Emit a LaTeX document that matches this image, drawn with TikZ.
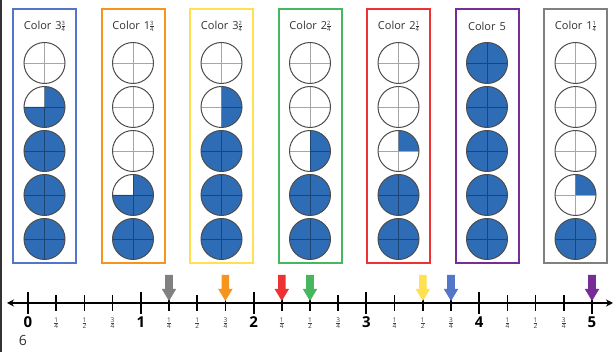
\documentclass[tikz,border=0pt]{standalone}
\usepackage{fontspec}
\setmainfont{Open Sans}
\usetikzlibrary{arrows.meta}
\definecolor{fillblue}{RGB}{46,109,181}
\definecolor{cblue}{RGB}{84,118,200}
\definecolor{corange}{RGB}{247,148,29}
\definecolor{cyellow}{RGB}{255,224,80}
\definecolor{cgreen}{RGB}{70,182,95}
\definecolor{cred}{RGB}{236,50,50}
\definecolor{cpurple}{RGB}{120,45,150}
\definecolor{cgrey}{RGB}{128,128,128}
\definecolor{txt}{RGB}{50,50,50}
\newcommand\myfr[3]{$\vcenter{\hbox{\fontsize{#1}{#1}\selectfont #2}\kern0.5pt\hrule height 0.45pt\kern0.6pt\hbox{\fontsize{#1}{#1}\selectfont #3}}$}
\tikzset{
  boxframe/.style={line width=2pt},
  boxlabel/.style={text=txt, font=\fontsize{11}{12}\selectfont, inner sep=0pt},
  discline/.style={black, opacity=0.35, line width=0.6pt},
  discedge/.style={draw=black!70, line width=1pt},
  tickmajor/.style={line width=2pt, black},
  tickminor/.style={line width=1.6pt, black},
  intlabel/.style={font=\fontsize{15}{16}\selectfont\bfseries, inner sep=0pt},
  fraclabel/.style={text=black!75, inner sep=0pt},
}
\begin{document}
\begin{tikzpicture}[x=1pt,y=1pt]
\useasboundingbox (0,0) rectangle (616,352);
\fill[white] (0,0) rectangle (616,352);
\draw[black!80, line width=1.6pt] (1,0) -- (1,352);
% boxes
\foreach \i/\col/\lab/\qs in {
  0/cblue/{3\myfr{5.8}{3}{4}}/{0,3,4,4,4},
  1/corange/{1\myfr{5.8}{3}{4}}/{0,0,0,3,4},
  2/cyellow/{3\myfr{5.8}{2}{4}}/{0,2,4,4,4},
  3/cgreen/{2\myfr{5.8}{2}{4}}/{0,0,2,4,4},
  4/cred/{2\myfr{5.8}{1}{4}}/{0,0,1,4,4},
  5/cpurple/{5}/{4,4,4,4,4},
  6/cgrey/{1\myfr{5.8}{1}{4}}/{0,0,0,1,4}}{
  \pgfmathsetmacro\bx{13+88.5*\i}
  \pgfmathsetmacro\cx{\bx+31.5}
  \draw[boxframe, draw=\col] (\bx,89) rectangle ++(63,254);
  \node[boxlabel] (lab\i) at (\cx,326) {Color\hspace{4pt}\lab};
  \foreach \q [count=\j from 0] in \qs {
    \pgfmathsetmacro\cy{289-44*\j}
    \ifnum\q>0
      \fill[fillblue] (\cx,\cy) -- ++(90:20.5) arc[start angle=90, delta angle={-90*\q}, radius=20.5] -- cycle;
    \fi
    \draw[discline] (\cx-20.5,\cy) -- (\cx+20.5,\cy) (\cx,\cy-20.5) -- (\cx,\cy+20.5);
    \node[circle, discedge, minimum size=41pt, inner sep=0pt] (d\i\j) at (\cx,\cy) {};
  }
}
% number line
\coordinate (nlL) at (7,49);
\coordinate (nlR) at (613,49);
\draw[line width=1.6pt, {Stealth[length=7pt,width=7pt]}-{Stealth[length=7pt,width=7pt]}] (nlL) -- (nlR);
\foreach \k in {0,...,20}{
  \pgfmathsetmacro\tx{28+28.2*\k}
  \pgfmathtruncatemacro\r{mod(\k,4)}
  \pgfmathtruncatemacro\n{div(\k,4)}
  \ifnum\r=0
    \draw[tickmajor] (\tx,38) -- (\tx,60);
    \node[intlabel] (t\k) at (\tx,30) {\n};
  \else
    \draw[tickminor] (\tx,41) -- (\tx,57);
    \ifnum\r=1 \node[fraclabel] (t\k) at (\tx,29) {\myfr{6.5}{1}{4}};\fi
    \ifnum\r=2 \node[fraclabel] (t\k) at (\tx,29) {\myfr{6.5}{1}{2}};\fi
    \ifnum\r=3 \node[fraclabel] (t\k) at (\tx,29) {\myfr{6.5}{3}{4}};\fi
  \fi
}
\node[font=\fontsize{14}{15}\selectfont, text=txt, inner sep=0pt] (six) at (23,11) {6};
% arrows
\foreach \k/\col in {5/cgrey,7/corange,9/cred,10/cgreen,14/cyellow,15/cblue,20/cpurple}{
  \pgfmathsetmacro\ax{28+28.2*\k}
  \fill[\col] (\ax-3.8,77) -- (\ax+3.8,77) -- (\ax+3.8,63) -- (\ax+7.2,63) -- (\ax,51) -- (\ax-7.2,63) -- (\ax-3.8,63) -- cycle;
}
\end{tikzpicture}
\end{document}
